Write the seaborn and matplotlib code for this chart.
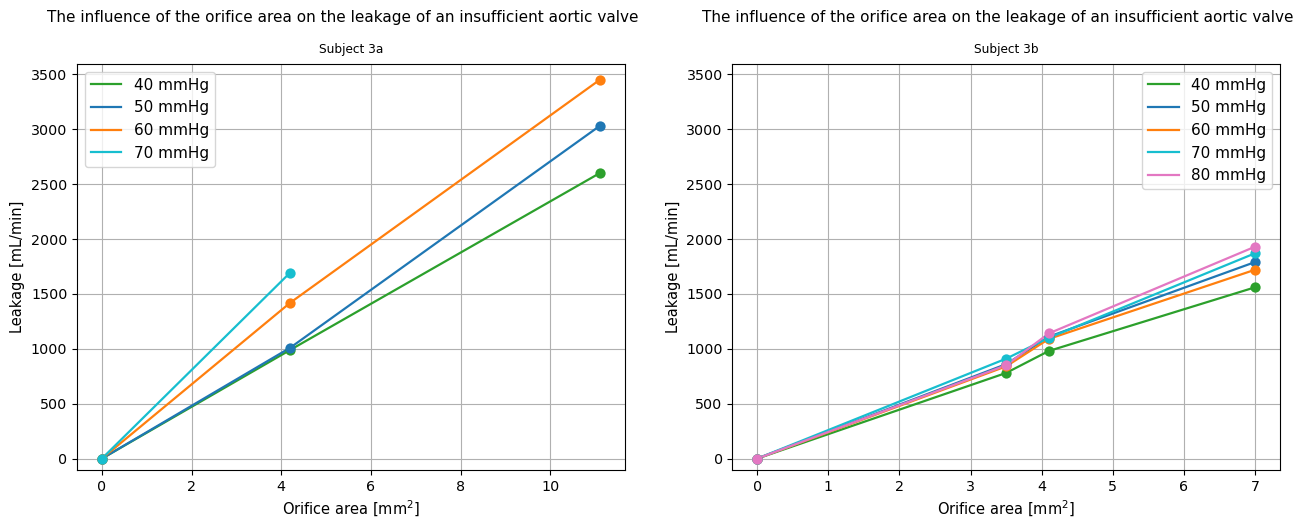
import numpy as np
import pandas as pd
import matplotlib
matplotlib.use("Agg")
import matplotlib.pyplot as plt
import seaborn as sns

# data
area_3a = [0, 4.2, 11.1]
leak_3a_40 = [0, 990, 2600]
leak_3a_50 = [0, 1010, 3030]
leak_3a_60 = [0, 1420, 3450]
area_3a_70 = [0, 4.2]
leak_3a_70 = [0, 1695]

area_3b = [0, 3.5, 4.1, 7]
leak_3b_40 = [0, 780, 980, 1560]
leak_3b_50 = [0, 860, 1110, 1790]
leak_3b_60 = [0, 840, 1090, 1720]
leak_3b_70 = [0, 910, 1100, 1870]
leak_3b_80 = [0, 850, 1140, 1930]

labels = ["40 mmHg", "50 mmHg", "60 mmHg", "70 mmHg", "80 mmHg"]
colors = ["tab:green", "tab:blue", "tab:orange", "tab:cyan", "tab:pink"]

title = "The influence of the orifice area on the leakage of an insufficient aortic valve"

series_3a = [(area_3a, leak_3a_40), (area_3a, leak_3a_50), (area_3a, leak_3a_60), (area_3a_70, leak_3a_70)]
series_3b = [(area_3b, leak_3b_40), (area_3b, leak_3b_50), (area_3b, leak_3b_60), (area_3b, leak_3b_70), (area_3b, leak_3b_80)]

fig, axes = plt.subplots(1, 2, figsize=(13.06, 5.2), dpi=100)
plt.subplots_adjust(left=0.059, right=0.98, bottom=0.096, top=0.877, wspace=0.197)

for ax, series, sub, loc in [(axes[0], series_3a, "Subject 3a", "upper left"),
                             (axes[1], series_3b, "Subject 3b", "upper right")]:
    for i, (x, y) in enumerate(series):
        sns.lineplot(x=x, y=y, color=colors[i], label=labels[i], ax=ax, linewidth=1.6)
        sns.scatterplot(x=x, y=y, color=colors[i], s=55, linewidth=0, ax=ax, zorder=3)
    ax.set_ylim(-105, 3595)
    ax.set_yticks(np.arange(0, 3501, 500))
    ax.grid(True)
    ax.set_axisbelow(True)
    ax.set_title(sub, fontsize=8.7, pad=8)
    ax.text(0.485, 1.115, title, transform=ax.transAxes, ha="center", va="center", fontsize=11)
    ax.set_xlabel("Orifice area [mm$^2$]", fontsize=10.5)
    ax.set_ylabel("Leakage [mL/min]", fontsize=10.5)
    ax.tick_params(labelsize=10.3)
    ax.legend(loc=loc, fontsize=11)

fig.savefig("out.png", dpi=100)
